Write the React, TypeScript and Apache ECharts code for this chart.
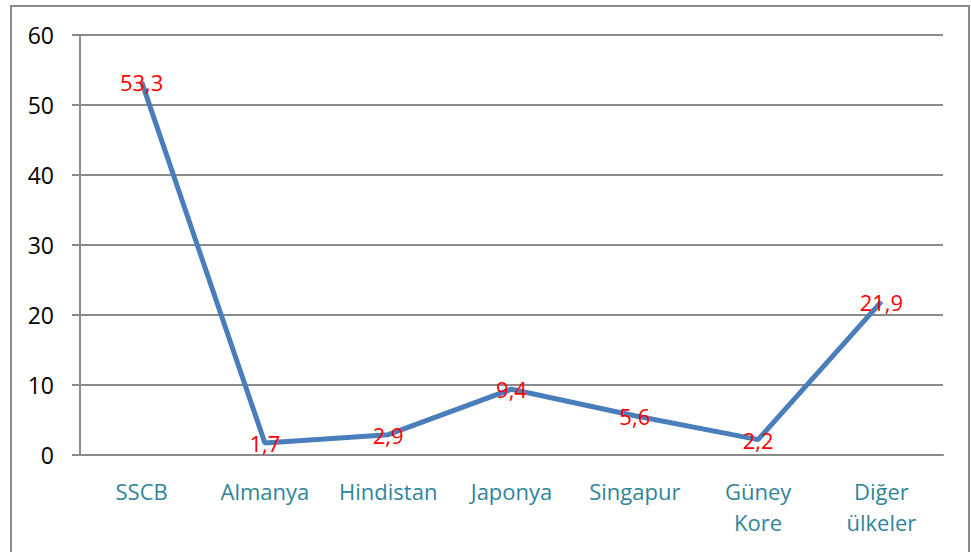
import React, { useEffect, useRef } from "react";
import * as echarts from "echarts";

const categories = ["SSCB", "Almanya", "Hindistan", "Japonya", "Singapur", "Güney\nKore", "Diğer\nülkeler"];
const values = [53.3, 1.7, 2.9, 9.4, 5.6, 2.2, 21.9];
const yMin = 0;
const yMax = 60;
const yStep = 10;

export default function App() {
  const ref = useRef<HTMLDivElement>(null);
  useEffect(() => {
    if (!ref.current) return;
    const chart = echarts.init(ref.current, null, { renderer: "svg" });
    chart.setOption({
      animation: false,
      backgroundColor: "#ffffff",
      graphic: [
        {
          type: "rect",
          shape: { x: 11, y: 6, width: 958, height: 560 },
          style: { fill: "none", stroke: "#8a8a8a", lineWidth: 2 },
          silent: true,
        },
      ],
      grid: { left: 80, right: 28, top: 35, bottom: 97, containLabel: false },
      xAxis: {
        type: "category",
        data: categories,
        boundaryGap: true,
        axisLine: { show: true, lineStyle: { color: "#8a8a8a", width: 2 } },
        axisTick: { show: false },
        axisLabel: {
          interval: 0,
          color: "#31849B",
          fontFamily: "Open Sans",
          fontSize: 22,
          lineHeight: 31,
          margin: 20,
        },
      },
      yAxis: {
        type: "value",
        min: yMin,
        max: yMax,
        interval: yStep,
        axisLine: { show: true, lineStyle: { color: "#8a8a8a", width: 2 } },
        axisTick: { show: true, length: 8, lineStyle: { color: "#8a8a8a", width: 2 } },
        splitLine: { show: true, lineStyle: { color: "#8a8a8a", width: 2 } },
        axisLabel: {
          color: "#000000",
          fontFamily: "Open Sans",
          fontSize: 23,
          margin: 26,
          formatter: (v: number) => String(v),
        },
      },
      series: [
        {
          type: "line",
          data: values,
          showSymbol: true,
          symbol: "circle",
          symbolSize: 1,
          lineStyle: { color: "#4A7EBB", width: 5 },
          itemStyle: { color: "#4A7EBB" },
          label: {
            show: true,
            position: "inside",
            color: "#FF0000",
            fontFamily: "Open Sans",
            fontSize: 22,
            formatter: (p: any) => String(p.value).replace(".", ","),
          },
        },
      ],
    });
    return () => chart.dispose();
  }, []);
  return (
    <div
      ref={ref}
      style={{ position: "fixed", left: 0, top: 0, width: 971, height: 552, background: "#fff" }}
    />
  );
}
